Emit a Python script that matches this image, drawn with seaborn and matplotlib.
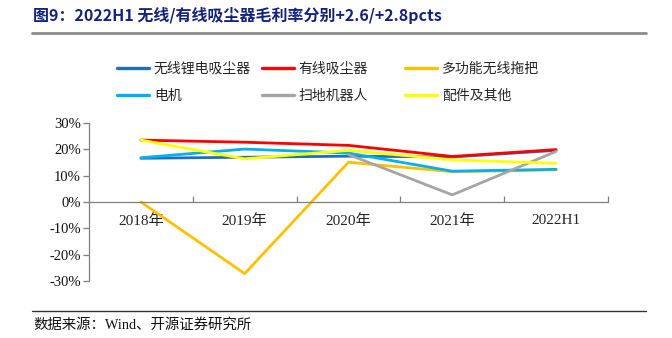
import numpy as np
import pandas as pd
import matplotlib
matplotlib.use("Agg")
import matplotlib.pyplot as plt
import seaborn as sns
from matplotlib.lines import Line2D

# Gross margin by product line (%)
categories = ["2018年", "2019年", "2020年", "2021年", "2022H1"]
series_names = ["无线锂电吸尘器", "有线吸尘器", "多功能无线拖把", "电机", "扫地机器人", "配件及其他"]
cordless_vacuum = [16.6, 17.0, 17.4, 17.1, 19.6]
corded_vacuum = [23.5, 22.7, 21.5, 17.3, 19.9]
wireless_mop = [0.0, -27.2, 15.1, 11.5, 12.2]
motor = [16.8, 20.1, 18.6, 11.7, 12.4]
robot_vacuum = [np.nan, np.nan, 18.0, 2.7, 19.2]
accessories = [23.5, 16.4, 19.6, 16.0, 14.7]
series_values = [cordless_vacuum, corded_vacuum, wireless_mop, motor, robot_vacuum, accessories]
colors = ["#1F6FBF", "#FF0000", "#FFC000", "#00B0F0", "#A5A5A5", "#FFFF00"]
yticks = [-30, -20, -10, 0, 10, 20, 30]

sns.set_theme(style="white")
plt.rcParams["font.family"] = ["Liberation Serif", "Noto Sans CJK SC", "DejaVu Sans"]

rows = []
for name, vals in zip(series_names, series_values):
    for i, v in enumerate(vals):
        rows.append({"idx": i, "value": v, "series": name})
df = pd.DataFrame(rows).dropna()

fig = plt.figure(figsize=(6.72, 3.38), dpi=100)
ax = fig.add_axes([89 / 672, 1 - 281 / 338, (608 - 89) / 672, (281 - 123) / 338])

sns.lineplot(data=df, x="idx", y="value", hue="series", hue_order=series_names,
             palette=colors, linewidth=2.0, sort=False, legend=False, ax=ax)

ax.set_xlim(-0.5, 4.5)
ax.set_ylim(-30, 30)
ax.set_xlabel("")
ax.set_ylabel("")

ax.set_yticks(yticks)
ax.set_yticklabels([f"{t}%" for t in yticks], fontsize=10.5, color="#111111")
ax.tick_params(axis="y", direction="out", length=4, width=0.9, color="#7F7F7F",
               left=True, pad=2)

ax.set_xticks(range(len(categories)))
ax.set_xticklabels(categories, fontsize=10.5, color="#111111")
ax.set_xticks([0.5, 1.5, 2.5, 3.5, 4.5], minor=True)
ax.tick_params(axis="x", which="major", length=0, pad=9)
ax.tick_params(axis="x", which="minor", direction="in", length=4, width=0.9,
               color="#7F7F7F", bottom=True)

for side in ["top", "right"]:
    ax.spines[side].set_visible(False)
ax.spines["left"].set_color("#7F7F7F")
ax.spines["left"].set_linewidth(0.9)
ax.spines["bottom"].set_position(("data", 0))
ax.spines["bottom"].set_color("#7F7F7F")
ax.spines["bottom"].set_linewidth(0.9)
ax.grid(False)

# Legend: three fixed-width columns of two entries each
handles = [Line2D([0], [0], color=c, lw=2.4) for c in colors]
column_x = [117, 262, 405]
for col, x in enumerate(column_x):
    idx = [col, col + 3]
    fig.legend([handles[i] for i in idx], [series_names[i] for i in idx],
               ncol=1, loc="center left", bbox_to_anchor=(x / 672, 1 - 82 / 338),
               frameon=False, handlelength=2.3, handletextpad=0.35,
               labelspacing=0.95, borderpad=0, borderaxespad=0,
               prop={"family": ["Noto Sans CJK SC"], "size": 10})

# Header and footer
fig.text(33 / 672, 1 - 16 / 338, "图9：2022H1 无线/有线吸尘器毛利率分别+2.6/+2.8pcts",
         fontsize=11.5, fontweight="bold", color="#14237A", va="center", ha="left",
         family=["Noto Sans CJK SC"])
fig.add_artist(Line2D([32 / 672, 646 / 672], [1 - 33 / 338, 1 - 33 / 338],
                      color="#8C8C8C", lw=2.0, transform=fig.transFigure))
fig.add_artist(Line2D([32 / 672, 646 / 672], [1 - 311 / 338, 1 - 311 / 338],
                      color="#333333", lw=1.0, transform=fig.transFigure))
fig.text(33 / 672, 1 - 325 / 338, "数据来源：Wind、开源证券研究所", fontsize=10.4,
         color="#111111", va="center", ha="left",
         family=["Liberation Serif", "Noto Sans CJK SC"])

fig.savefig("out.png", dpi=100)
